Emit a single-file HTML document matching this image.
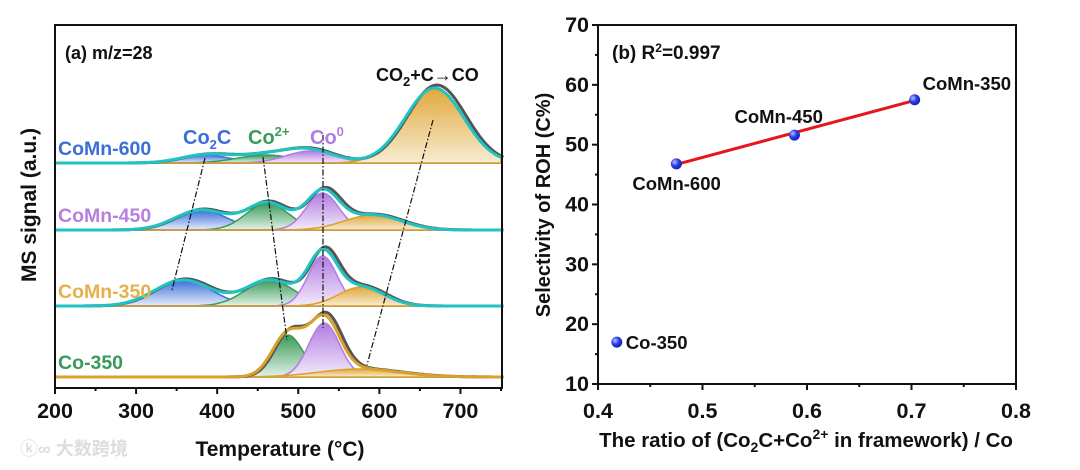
<!DOCTYPE html>
<html><head><meta charset="utf-8"><style>
body{margin:0;background:#fff;}
svg{display:block;font-family:"Liberation Sans",Arial,sans-serif;font-weight:bold;}
</style></head><body>
<svg id="chart" width="1080" height="470" viewBox="0 0 1080 470">
<defs>
<linearGradient id="g-blue" x1="0" y1="0" x2="0" y2="1"><stop offset="0" stop-color="#3a6fd8"/><stop offset="1" stop-color="#e6eefc"/></linearGradient>
<linearGradient id="g-green" x1="0" y1="0" x2="0" y2="1"><stop offset="0" stop-color="#3a9a5a"/><stop offset="1" stop-color="#e2f3e7"/></linearGradient>
<linearGradient id="g-purple" x1="0" y1="0" x2="0" y2="1"><stop offset="0" stop-color="#b07de0"/><stop offset="1" stop-color="#f3eafb"/></linearGradient>
<linearGradient id="g-orange" x1="0" y1="0" x2="0" y2="1"><stop offset="0" stop-color="#e0a83a"/><stop offset="1" stop-color="#f8ecd2"/></linearGradient>
<radialGradient id="g-ball" cx="0.35" cy="0.35" r="0.7"><stop offset="0" stop-color="#b8c4ff"/><stop offset="0.5" stop-color="#2a3ce8"/><stop offset="1" stop-color="#1020b0"/></radialGradient>
</defs>
<g id="left"></g>
<g id="right"></g>
<text x="20" y="455" font-size="18" fill="#ddd" font-family="'Liberation Sans','Noto Sans CJK SC',sans-serif">ⓚ∞ 大数跨境</text>
</svg>
<script>
// ---------- Panel (a) data ----------
const samples = ["CoMn-600","CoMn-450","CoMn-350","Co-350"];
const sampleColors = ["#3a6fd8","#b77fe0","#e8b04a","#3a9a5a"];
const baselines = [163,230,306,377]; // offsets in px per stacked trace
const comps = ["Co2C","Co2+","Co0","CO"];
const compFill = ["url(#g-blue)","url(#g-green)","url(#g-purple)","url(#g-orange)"];
const compStroke = ["#3a6fd8","#3a9a5a","#b07de0","#d9a02a"];
const peakCenters = [[385,460,515,668],[380,462,530,592],[358,465,530,578],[0,487,532,575]];
const peakWidths  = [[30,35,30,36],[32,26,20,35],[35,30,18,28],[1,19,19,50]];
const peakHeights = [[8,8,12,75],[20,27,37,15],[26,26,50,19],[0,42,54,8]];
const xTicks = [200,300,400,500,600,700];

// ---------- Panel (b) data ----------
const ratioX = [0.418,0.475,0.588,0.703];
const selectY = [17,46.8,51.6,57.5];
const pointLabels = ["Co-350","CoMn-600","CoMn-450","CoMn-350"];
const fitX = [0.475,0.703];
const fitY = [46.7,57.4];
const bxTicks = [0.4,0.5,0.6,0.7,0.8];
const byTicks = [10,20,30,40,50,60,70];

const NS="http://www.w3.org/2000/svg";
function mk(parent,tag,attrs,text){const e=document.createElementNS(NS,tag);for(const k in attrs)e.setAttribute(k,attrs[k]);if(text!==undefined)e.textContent=text;parent.appendChild(e);return e;}

// Panel a
const L=document.getElementById('left');
const ax=t=>55+(t-200)*(501-55)/550;
function g(t,c,s,h){return h*Math.exp(-0.5*((t-c)/s)**2);}
for(let i=0;i<samples.length;i++){
  const base=baselines[i];
  for(let j=0;j<comps.length;j++){
    const h=peakHeights[i][j]; if(h<=0) continue;
    let d=`M${ax(200)},${base}`;
    for(let t=200;t<=750;t+=2) d+=` L${ax(t).toFixed(1)},${(base-g(t,peakCenters[i][j],peakWidths[i][j],h)).toFixed(1)}`;
    d+=` L${ax(750)},${base} Z`;
    const p=mk(L,'path',{d:d,fill:compFill[j],stroke:compStroke[j],'stroke-width':1.5});
    
    
  }
  let dg='',de='';
  for(let t=200;t<=750;t+=2){
    let s=0;for(let j=0;j<comps.length;j++) s+=g(t,peakCenters[i][j],peakWidths[i][j],peakHeights[i][j]);
    dg+=(t===200?'M':' L')+ax(t+3).toFixed(1)+','+(base-s*1.04).toFixed(1);
    de+=(t===200?'M':' L')+ax(t).toFixed(1)+','+(base-s).toFixed(1);
  }
  const pg=mk(L,'path',{d:dg,fill:'none',stroke:'#555','stroke-width':3});
  
  
  const pe=mk(L,'path',{d:de,fill:'none',stroke:i===3?'#d9a02a':'#1fc3c3','stroke-width':3});
  
  
  const lb=mk(L,'text',{x:58,y:base-8,'font-size':19.5,fill:sampleColors[i]},samples[i]);
  
  
}
// dash-dot guide lines
[[205,158,172,290],[263,157,287,340],[323,135,323,328],[433,120,367,365]].forEach((l,k)=>{
  const e=mk(L,'line',{x1:l[0],y1:l[1],x2:l[2],y2:l[3],stroke:'#111','stroke-width':1.2,'stroke-dasharray':'6 2 1.5 2'});
  
});
const frameA=mk(L,'rect',{x:55,y:25,width:447,height:363,fill:'none',stroke:'#111','stroke-width':2});

for(let t=200;t<=750;t+=50){
  const e=mk(L,'line',{x1:ax(t),x2:ax(t),y1:388,y2:t%100===0?394:391,stroke:'#111','stroke-width':2});
  
}
xTicks.forEach(t=>{const e=mk(L,'text',{x:ax(t),y:418,'font-size':21.5,'text-anchor':'middle',fill:'#111'},t);
  });
let e;
e=mk(L,'text',{x:280,y:456,'font-size':21,'text-anchor':'middle',fill:'#111'},'Temperature (°C)');
e=mk(L,'text',{x:0,y:0,'font-size':21,'text-anchor':'middle',fill:'#111',transform:'translate(36,205) rotate(-90)'},'MS signal (a.u.)');
e=mk(L,'text',{x:65,y:59,'font-size':18,fill:'#111'},'(a)   m/z=28');
e=mk(L,'text',{x:376,y:81,'font-size':18,fill:'#111'});e.innerHTML='CO<tspan font-size="13" dy="5">2</tspan><tspan dy="-5">+C→CO</tspan>';
e=mk(L,'text',{x:183,y:144,'font-size':20,fill:'#3a6fd8'});e.innerHTML='Co<tspan font-size="13" dy="5">2</tspan><tspan dy="-5">C</tspan>';
e=mk(L,'text',{x:248,y:144,'font-size':20,fill:'#3a9a5a'});e.innerHTML='Co<tspan font-size="13" dy="-8">2+</tspan>';
e=mk(L,'text',{x:310,y:144,'font-size':20,fill:'#b07de0'});e.innerHTML='Co<tspan font-size="13" dy="-8">0</tspan>';

// Panel b
const R=document.getElementById('right');
const bx=v=>598+(v-0.4)*(1016-598)/0.4;
const by=v=>384-(v-10)*(384-25)/60;
e=mk(R,'rect',{x:598,y:25,width:418,height:359,fill:'none',stroke:'#111','stroke-width':2});
for(let v=0.4;v<=0.801;v+=0.05){e=mk(R,'line',{x1:bx(v),x2:bx(v),y1:384,y2:Math.round(v*100)%10===0?390:387,stroke:'#111','stroke-width':2});}
for(let v=10;v<=70;v+=5){e=mk(R,'line',{x1:598,x2:Math.round(v)%10===0?592:595,y1:by(v),y2:by(v),stroke:'#111','stroke-width':2});}
bxTicks.forEach(v=>{e=mk(R,'text',{x:bx(v),y:418,'font-size':21.5,'text-anchor':'middle',fill:'#111'},v.toFixed(1));});
byTicks.forEach(v=>{e=mk(R,'text',{x:589,y:by(v)+7,'font-size':21.5,'text-anchor':'end',fill:'#111'},v);});
e=mk(R,'line',{x1:bx(fitX[0]),y1:by(fitY[0]),x2:bx(fitX[1]),y2:by(fitY[1]),stroke:'#e8141c','stroke-width':3});
const lblOff=[[9,7],[-44,26],[-60,-12],[8,-10]];
ratioX.forEach((v,i)=>{
  const c=mk(R,'circle',{cx:bx(v),cy:by(selectY[i]),r:5.5,fill:'url(#g-ball)'});
  
  
  const t=mk(R,'text',{x:bx(v)+lblOff[i][0],y:by(selectY[i])+lblOff[i][1],'font-size':18.5,fill:'#111'},pointLabels[i]);
  
  
});
e=mk(R,'text',{x:612,y:59,'font-size':19,fill:'#111'});e.innerHTML='(b)   R<tspan font-size="12" dy="-7">2</tspan><tspan dy="7">=0.997</tspan>';
e=mk(R,'text',{x:806,y:447,'font-size':20.5,'text-anchor':'middle',fill:'#111'});e.innerHTML='The ratio of (Co<tspan font-size="14" dy="5">2</tspan><tspan dy="-5">C+Co</tspan><tspan font-size="14" dy="-8">2+</tspan><tspan dy="8"> in framework) / Co</tspan>';
e=mk(R,'text',{x:0,y:0,'font-size':20,'text-anchor':'middle',fill:'#111',transform:'translate(550,205) rotate(-90)'},'Selectivity of ROH  (C%)');
</script>
</body></html>
